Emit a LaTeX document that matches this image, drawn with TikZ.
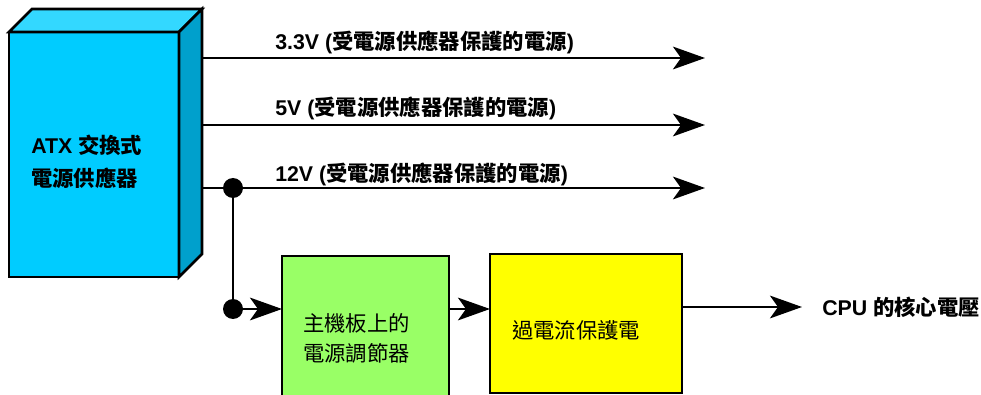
\documentclass[tikz,border=0pt]{standalone}
\usepackage{fontspec}
\setmainfont{Liberation Sans}
\newfontfamily\cjk{Noto Sans CJK TC}
\newcommand\zhtxt[1]{{\cjk #1}}
\usetikzlibrary{arrows.meta}
\definecolor{atxfront}{RGB}{0,204,255}
\definecolor{atxtop}{RGB}{51,216,255}
\definecolor{atxside}{RGB}{0,160,204}
\definecolor{regfill}{RGB}{153,255,102}
\definecolor{ocpfill}{RGB}{255,255,0}
\tikzset{
  wire/.style={line width=2pt, draw=black},
  arr/.style={wire, -{Stealth[length=24pt,width=17pt,inset=6pt]}},
  boxline/.style={line width=2pt, draw=black, line join=miter},
  lbl/.style={font=\fontsize{16}{20}\selectfont\bfseries, inner sep=0pt, anchor=west},
  txt/.style={font=\fontsize{16}{22.5}\selectfont, inner sep=0pt, anchor=west, align=left},
  dot/.style={circle, fill=black, inner sep=0pt, minimum size=15pt},
}
\begin{document}
\begin{tikzpicture}[x=0.75pt,y=-0.75pt]
\useasboundingbox (0,0) rectangle (981,395);
\clip (0,0) rectangle (981,395);
% ATX box
\node[boxline, fill=atxfront, outer sep=0pt, minimum width=127.5pt, minimum height=183.75pt] (atx) at (94,154.5) {};
\draw[boxline, fill=atxtop] (atx.north west) -- ++(23,-23) -- ([shift={(23,-23)}]atx.north east) -- (atx.north east) -- cycle;
\draw[boxline, fill=atxside] (atx.north east) -- ++(23,-23) -- ([shift={(23,-23)}]atx.south east) -- (atx.south east) -- cycle;
\node[txt, font=\fontsize{16}{24.75}\selectfont\bfseries] (atxtext) at (31,162) {ATX \zhtxt{交換式}\\\zhtxt{電源供應器}};
% output rails
\coordinate (s33) at (202,58);
\coordinate (e33) at (705,58);
\coordinate (s5) at (202,125);
\coordinate (e5) at (705,125);
\coordinate (s12) at (202,188);
\coordinate (e12) at (705,188);
\draw[arr] (s33) -- (e33);
\draw[arr] (s5) -- (e5);
\draw[arr] (s12) -- (e12);
\node[lbl] (l33) at (275,42) {3.3V (\zhtxt{受電源供應器保護的電源})};
\node[lbl] (l5) at (275,108) {5V (\zhtxt{受電源供應器保護的電源})};
\node[lbl] (l12) at (275,174) {12V (\zhtxt{受電源供應器保護的電源})};
% regulator and OCP
\node[boxline, fill=regfill, outer sep=0pt, anchor=north west, minimum width=125.25pt, minimum height=120pt] (reg) at (282,256) {};
\node[boxline, fill=ocpfill, outer sep=0pt, anchor=north west, minimum width=144pt, minimum height=104.25pt] (ocp) at (490,254) {};
\node[txt] (regtext) at (303,338) {\zhtxt{主機板上的}\\\zhtxt{電源調節器}};
\node[txt] (ocptext) at (512,330) {\zhtxt{過電流保護電}};
% junctions
\node[dot] (j1) at (233,188) {};
\node[dot] (j2) at (233,309) {};
\draw[wire] (j1) -- (j2);
\draw[arr] (j2.center) -- (j2.center -| reg.west);
\draw[arr] (reg.east |- j2) -- (ocp.west |- j2);
\coordinate (cpuend) at (802,307);
\draw[arr] (ocp.east |- cpuend) -- (cpuend);
\node[lbl] (cpu) at (822,307) {CPU \zhtxt{的核心電壓}};
\end{tikzpicture}
\end{document}
